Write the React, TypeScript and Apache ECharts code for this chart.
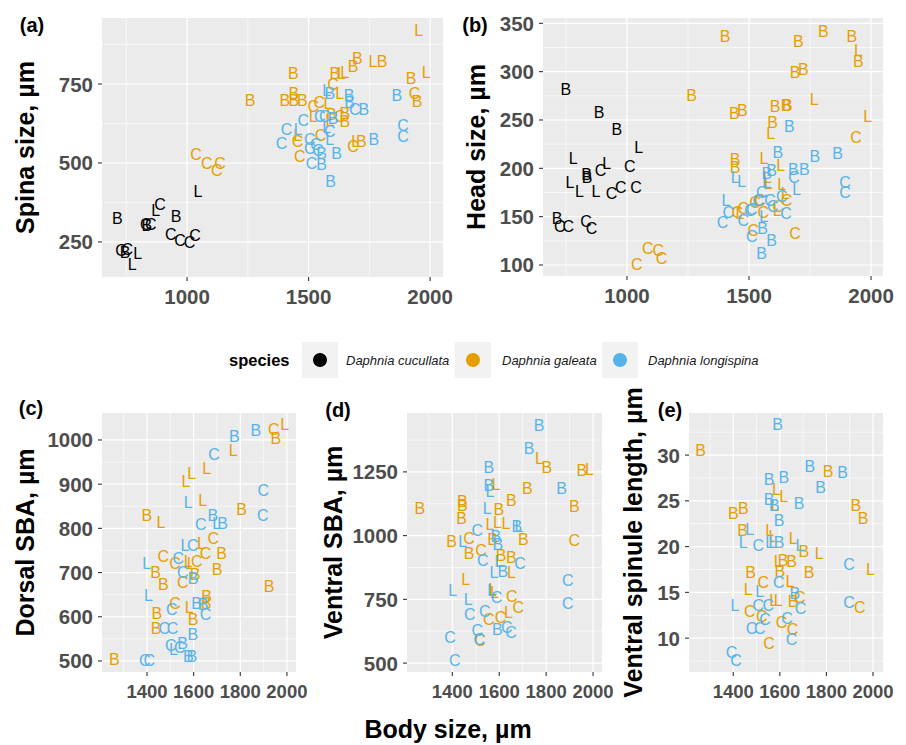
import React, { useEffect, useRef } from "react";
import * as echarts from "echarts";

// ---------- colours ----------
const SPECIES = ["Daphnia cucullata", "Daphnia galeata", "Daphnia longispina"];
const COLORS = ["#000000", "#E69F00", "#56B4E9"];

// ---------- panel (a): body size vs spina size ----------
const A_CUC: [number, number, string][] = [
  [713, 323, "B"], [728, 223, "C"], [745, 218, "B"], [754, 225, "C"], [797, 212, "L"], [774, 177, "L"],
  [830, 304, "C"], [834, 302, "B"], [851, 305, "C"], [871, 349, "L"], [889, 370, "C"], [955, 330, "B"],
  [933, 273, "C"], [971, 254, "C"], [1010, 248, "C"], [1033, 269, "C"], [1045, 409, "L"],
];
const A_GAL: [number, number, string][] = [
  [1037, 528, "C"], [1081, 499, "C"], [1122, 476, "C"], [1136, 499, "C"],
  [1259, 699, "B"], [1402, 699, "B"], [1439, 699, "B"], [1474, 699, "B"], [1439, 720, "B"], [1437, 784, "B"],
  [1608, 784, "B"], [1635, 784, "L"], [1649, 786, "L"], [1683, 805, "B"], [1701, 831, "B"], [1765, 821, "L"], [1802, 821, "B"],
  [1953, 919, "L"], [1984, 786, "L"], [1922, 768, "B"], [1936, 720, "C"], [1946, 694, "B"],
  [1601, 747, "C"], [1628, 720, "L"],
  [1519, 678, "C"], [1544, 691, "C"], [1580, 689, "L"], [1519, 647, "L"],
  [1649, 657, "B"], [1649, 631, "B"], [1628, 647, "C"], [1587, 636, "L"], [1594, 652, "B"],
  [1549, 586, "C"], [1455, 587, "L"], [1455, 568, "C"], [1464, 521, "C"],
  [1683, 552, "C"], [1694, 567, "L"], [1717, 567, "B"],
];
const A_LON: [number, number, string][] = [
  [1389, 562, "C"], [1409, 605, "C"], [1457, 605, "L"], [1478, 636, "C"], [1505, 573, "C"], [1505, 547, "C"],
  [1539, 541, "C"], [1553, 531, "B"], [1512, 499, "C"], [1553, 494, "B"], [1590, 441, "B"], [1615, 531, "B"],
  [1587, 573, "L"], [1587, 599, "C"], [1546, 647, "C"], [1567, 647, "C"], [1601, 641, "B"],
  [1574, 731, "L"], [1587, 720, "B"], [1667, 715, "B"], [1669, 691, "B"], [1690, 670, "C"], [1727, 668, "B"],
  [1768, 573, "B"], [1863, 715, "B"], [1889, 620, "C"], [1889, 585, "C"], [1530, 560, "C"], [1575, 612, "L"],
];

// ---------- panel (b): body size vs head size ----------
const B_CUC: [number, number, string][] = [
  [750, 282, "B"], [886, 258, "B"], [958, 240, "B"], [1048, 222, "L"], [780, 210, "L"], [835, 194, "B"],
  [837, 190, "B"], [892, 198, "C"], [917, 205, "L"], [1012, 202, "C"], [766, 185, "L"], [805, 176, "L"],
  [873, 176, "L"], [937, 174, "C"], [975, 180, "C"], [1037, 180, "C"], [714, 148, "B"], [725, 140, "C"],
  [760, 140, "C"], [832, 145, "C"], [855, 138, "C"],
];
const B_GAL: [number, number, string][] = [
  [1040, 100, "C"], [1085, 117, "C"], [1128, 115, "C"], [1142, 107, "C"], [1265, 275, "B"], [1402, 336, "B"],
  [1440, 257, "B"], [1473, 260, "B"], [1702, 331, "B"], [1805, 342, "B"], [1921, 336, "B"], [1948, 322, "L"],
  [1948, 310, "B"], [1689, 299, "B"], [1723, 302, "B"], [1767, 271, "L"], [1986, 254, "L"], [1939, 232, "C"],
  [1607, 264, "B"], [1652, 265, "B"], [1657, 265, "B"], [1597, 247, "B"], [1589, 236, "L"], [1443, 209, "B"],
  [1443, 201, "B"], [1561, 210, "L"], [1630, 203, "L"], [1575, 190, "L"], [1579, 184, "L"], [1634, 183, "L"],
  [1648, 174, "L"], [1654, 167, "C"], [1620, 161, "C"], [1616, 156, "L"], [1559, 154, "C"], [1545, 167, "C"],
  [1525, 165, "C"], [1477, 158, "C"], [1452, 154, "C"], [1463, 153, "L"], [1518, 136, "C"], [1689, 133, "C"],
];
const B_LON: [number, number, string][] = [
  [1665, 243, "B"], [1618, 216, "B"], [1770, 212, "B"], [1863, 215, "B"], [1593, 198, "B"], [1682, 199, "B"],
  [1727, 199, "B"], [1573, 195, "B"], [1684, 190, "C"], [1695, 178, "L"], [1443, 191, "L"], [1470, 186, "L"],
  [1893, 185, "C"], [1893, 175, "C"], [1406, 167, "L"], [1552, 175, "C"], [1538, 167, "C"], [1586, 167, "C"],
  [1597, 161, "C"], [1634, 171, "C"], [1511, 157, "C"], [1652, 153, "C"], [1415, 154, "C"], [1392, 144, "C"],
  [1477, 146, "C"], [1504, 156, "C"], [1556, 138, "B"], [1511, 129, "C"], [1593, 125, "B"], [1552, 112, "B"],
  [1573, 185, "L"], [1560, 150, "L"],
];

// ---------- panel (c): body size vs dorsal SBA ----------
const C_GAL: [number, number, string][] = [
  [1260, 504, "B"], [1399, 828, "B"], [1460, 813, "L"], [1567, 906, "L"], [1592, 923, "L"], [1656, 936, "L"],
  [1770, 976, "L"], [1944, 1024, "C"], [1991, 1034, "L"], [1953, 1004, "B"], [1639, 864, "L"], [1806, 842, "B"],
  [1924, 668, "B"], [1684, 778, "C"], [1634, 765, "L"], [1651, 742, "C"], [1720, 744, "B"], [1701, 707, "B"],
  [1470, 736, "C"], [1437, 700, "B"], [1470, 674, "B"], [1520, 721, "C"], [1577, 725, "L"], [1613, 725, "C"],
  [1606, 695, "B"], [1553, 677, "C"], [1520, 630, "C"], [1581, 621, "L"], [1656, 645, "B"], [1653, 630, "B"],
  [1442, 608, "B"], [1439, 574, "B"], [1598, 593, "B"], [1590, 720, "L"],
];
const C_LON: [number, number, string][] = [
  [1774, 1007, "B"], [1867, 1021, "B"], [1687, 968, "C"], [1899, 885, "C"], [1896, 830, "C"], [1577, 858, "L"],
  [1682, 828, "B"], [1631, 808, "C"], [1699, 810, "L"], [1724, 810, "B"], [1563, 762, "L"], [1596, 762, "C"],
  [1399, 721, "L"], [1534, 732, "C"], [1553, 700, "C"], [1598, 687, "B"], [1406, 647, "L"], [1506, 617, "C"],
  [1613, 631, "B"], [1641, 627, "B"], [1651, 606, "C"], [1474, 574, "C"], [1510, 574, "C"], [1596, 559, "B"],
  [1502, 534, "C"], [1513, 525, "L"], [1541, 531, "C"], [1553, 540, "B"], [1577, 510, "B"], [1592, 510, "B"],
  [1391, 502, "C"], [1410, 502, "C"],
];

// ---------- panel (d): body size vs ventral SBA ----------
const D_GAL: [number, number, string][] = [
  [1262, 1107, "B"], [1443, 1133, "B"], [1443, 1120, "B"], [1440, 1068, "B"], [1397, 976, "B"], [1471, 990, "C"],
  [1472, 928, "B"], [1522, 941, "C"], [1457, 829, "L"], [1598, 1101, "B"], [1586, 1199, "L"], [1561, 1042, "L"],
  [1592, 1051, "L"], [1629, 1048, "L"], [1572, 983, "B"], [1652, 1136, "B"], [1720, 1183, "B"], [1771, 1304, "L"],
  [1803, 1268, "B"], [1952, 1254, "B"], [1984, 1258, "L"], [1920, 1114, "B"], [1920, 980, "C"], [1703, 983, "B"],
  [1608, 921, "B"], [1652, 915, "B"], [1652, 855, "L"], [1600, 900, "L"], [1572, 787, "L"], [1653, 760, "C"],
  [1681, 718, "C"], [1639, 697, "L"], [1606, 679, "C"], [1556, 669, "C"], [1518, 588, "C"], [1580, 775, "L"],
];
const D_LON: [number, number, string][] = [
  [1770, 1432, "B"], [1727, 1343, "B"], [1556, 1268, "B"], [1556, 1195, "B"], [1561, 1173, "L"], [1866, 1186, "B"],
  [1549, 1105, "L"], [1507, 1022, "C"], [1444, 976, "L"], [1675, 1035, "B"], [1684, 1035, "L"], [1586, 996, "B"],
  [1594, 967, "B"], [1530, 904, "C"], [1600, 898, "L"], [1615, 859, "B"], [1689, 891, "C"], [1578, 855, "L"],
  [1892, 823, "C"], [1892, 732, "C"], [1402, 783, "L"], [1468, 750, "L"], [1475, 692, "C"], [1539, 701, "C"],
  [1589, 758, "C"], [1568, 783, "L"], [1390, 601, "C"], [1507, 627, "C"], [1515, 593, "C"], [1592, 632, "B"],
  [1632, 640, "C"], [1650, 620, "C"], [1411, 509, "C"],
];

// ---------- panel (e): body size vs ventral spinule length ----------
const E_GAL: [number, number, string][] = [
  [1260, 30.5, "B"], [1400, 23.6, "B"], [1443, 24.2, "B"], [1440, 21.8, "B"], [1557, 21.8, "L"], [1571, 21.1, "L"],
  [1586, 26.2, "L"], [1617, 25.5, "L"], [1579, 24.5, "L"], [1657, 20.9, "L"], [1703, 19.5, "B"], [1769, 19.3, "L"],
  [1807, 28.2, "B"], [1926, 24.5, "B"], [1957, 23.1, "B"], [1989, 17.5, "L"], [1943, 13.3, "C"], [1474, 17.2, "B"],
  [1464, 15.3, "L"], [1529, 16.1, "C"], [1471, 12.9, "C"], [1522, 12.4, "C"], [1593, 18.4, "L"], [1614, 18.5, "B"],
  [1650, 18.4, "B"], [1600, 17.3, "B"], [1643, 16.2, "L"], [1726, 17.2, "B"], [1574, 14.1, "L"], [1593, 14.1, "L"],
  [1657, 14.0, "B"], [1686, 14.4, "C"], [1607, 11.7, "C"], [1655, 10.9, "C"], [1554, 9.4, "C"],
];
const E_LON: [number, number, string][] = [
  [1590, 33.3, "B"], [1729, 28.7, "B"], [1869, 28.1, "B"], [1775, 26.5, "B"], [1554, 27.3, "B"], [1617, 27.6, "B"],
  [1554, 25.1, "B"], [1576, 24.5, "B"], [1683, 24.7, "B"], [1597, 22.8, "B"], [1471, 21.9, "L"], [1443, 20.4, "L"],
  [1507, 20.1, "C"], [1557, 20.5, "L"], [1571, 20.5, "L"], [1597, 20.4, "B"], [1686, 20.1, "L"], [1596, 16.1, "C"],
  [1897, 18.0, "C"], [1897, 13.9, "C"], [1407, 13.6, "L"], [1514, 15.1, "L"], [1507, 13.6, "C"], [1550, 13.6, "C"],
  [1664, 14.9, "B"], [1689, 13.2, "C"], [1479, 11.1, "C"], [1514, 11.1, "C"], [1536, 12.0, "C"], [1631, 12.2, "C"],
  [1650, 9.8, "C"], [1393, 8.4, "C"], [1412, 7.6, "C"],
];

// ---------- ticks ----------
const UP_X_MAJOR = [1000, 1500, 2000];
const UP_X_MINOR = [750, 1250, 1750];
const A_Y_MAJOR = [250, 500, 750];
const A_Y_MINOR = [375, 625, 875];
const B_Y_MAJOR = [100, 150, 200, 250, 300, 350];
const B_Y_MINOR = [125, 175, 225, 275, 325];
const LOW_X_MAJOR = [1400, 1600, 1800, 2000];
const LOW_X_MINOR = [1300, 1500, 1700, 1900];
const C_Y_MAJOR = [500, 600, 700, 800, 900, 1000];
const C_Y_MINOR = [550, 650, 750, 850, 950];
const D_Y_MAJOR = [500, 750, 1000, 1250];
const D_Y_MINOR = [625, 875, 1125, 1375];
const E_Y_MAJOR = [10, 15, 20, 25, 30];
const E_Y_MINOR = [7.5, 12.5, 17.5, 22.5, 27.5, 32.5];

const TAGS = ["(a)", "(b)", "(c)", "(d)", "(e)"];
const Y_TITLES = ["Spina size, µm", "Head size, µm", "Dorsal SBA, µm", "Ventral SBA, µm", "Ventral spinule length, µm"];
const X_TITLE = "Body size, µm";

type Pt = [number, number, string];
interface Panel {
  rect: [number, number, number, number];
  x: [number, number];
  y: [number, number];
  xMaj: number[]; xMin: number[]; yMaj: number[]; yMin: number[];
  groups: Pt[][];
  tag: [number, number];
  title: [number, number];
  xFont: number;
}

const PANELS: Panel[] = [
  { rect: [102, 18, 341, 259], x: [650, 2053], y: [139, 959], xMaj: UP_X_MAJOR, xMin: UP_X_MINOR, yMaj: A_Y_MAJOR, yMin: A_Y_MINOR, groups: [A_CUC, A_GAL, A_LON], tag: [32, 25], title: [25, 147.5], xFont: 20.5 },
  { rect: [543, 18, 340, 258], x: [656, 2049], y: [88.6, 355.5], xMaj: UP_X_MAJOR, xMin: UP_X_MINOR, yMaj: B_Y_MAJOR, yMin: B_Y_MINOR, groups: [B_CUC, B_GAL, B_LON], tag: [475, 25], title: [476, 147], xFont: 20.5 },
  { rect: [102, 413, 194, 259], x: [1207, 2039], y: [475, 1061], xMaj: LOW_X_MAJOR, xMin: LOW_X_MINOR, yMaj: C_Y_MAJOR, yMin: C_Y_MINOR, groups: [[], C_GAL, C_LON], tag: [31, 408], title: [25, 542.5], xFont: 18.5 },
  { rect: [407, 413, 195, 259], x: [1207, 2038], y: [465, 1481], xMaj: LOW_X_MAJOR, xMin: LOW_X_MINOR, yMaj: D_Y_MAJOR, yMin: D_Y_MINOR, groups: [[], D_GAL, D_LON], tag: [338, 410], title: [333, 542.5], xFont: 18.5 },
  { rect: [689, 413, 194, 259], x: [1210, 2043], y: [6.3, 34.6], xMaj: LOW_X_MAJOR, xMin: LOW_X_MINOR, yMaj: E_Y_MAJOR, yMin: E_Y_MINOR, groups: [[], E_GAL, E_LON], tag: [670, 410], title: [633, 542.5], xFont: 18.5 },
];

const FONT = '"Liberation Sans", Arial, Helvetica, sans-serif';
const LETTER_FONT = `16px ${FONT}`;
const Y_TICK_FONT = `bold 20.5px ${FONT}`;
const TITLE_FONT = `bold 25px ${FONT}`;

function txt(text: string, x: number, y: number, font: string, fill: string, align = "center", rotation = 0): any {
  return {
    type: "text", x, y, rotation, silent: true,
    style: { text, font, fill, textAlign: align, textVerticalAlign: "middle", align, verticalAlign: "middle" },
  };
}

function buildOption(): any {
  const grid: any[] = [];
  const xAxis: any[] = [];
  const yAxis: any[] = [];
  const series: any[] = [];
  const graphic: any[] = [];

  PANELS.forEach((p, i) => {
    grid.push({ left: p.rect[0], top: p.rect[1], width: p.rect[2], height: p.rect[3], show: true, backgroundColor: "#EBEBEB", borderWidth: 0 });
    xAxis.push({ type: "value", gridIndex: i, min: p.x[0], max: p.x[1], show: false });
    yAxis.push({ type: "value", gridIndex: i, min: p.y[0], max: p.y[1], show: false });

    // grid lines: [value, orientation(0=vertical,1=horizontal), major]
    const lines: number[][] = [
      ...p.xMin.map((v) => [v, 0, 0]), ...p.yMin.map((v) => [v, 1, 0]),
      ...p.xMaj.map((v) => [v, 0, 1]), ...p.yMaj.map((v) => [v, 1, 1]),
    ];
    series.push({
      type: "custom", xAxisIndex: i, yAxisIndex: i, silent: true, z: 1,
      data: lines.map(() => [p.x[0], p.y[0]]),
      renderItem: (params: any, api: any) => {
        const [v, o, m] = lines[params.dataIndex];
        const a = o === 0 ? api.coord([v, p.y[0]]) : api.coord([p.x[0], v]);
        const b = o === 0 ? api.coord([v, p.y[1]]) : api.coord([p.x[1], v]);
        return { type: "line", shape: { x1: a[0], y1: a[1], x2: b[0], y2: b[1] }, style: { stroke: "#FFFFFF", lineWidth: m ? 1.2 : 0.6 } };
      },
    });

    // ticks + tick labels
    const ticks: number[][] = [...p.xMaj.map((v) => [v, 0]), ...p.yMaj.map((v) => [v, 1])];
    const xTickFont = `bold ${p.xFont}px ${FONT}`;
    series.push({
      type: "custom", xAxisIndex: i, yAxisIndex: i, silent: true, z: 2,
      data: ticks.map(() => [p.x[0], p.y[0]]),
      renderItem: (params: any, api: any) => {
        const [v, o] = ticks[params.dataIndex];
        if (o === 0) {
          const c = api.coord([v, p.y[0]]);
          return {
            type: "group",
            children: [
              { type: "line", shape: { x1: c[0], y1: c[1], x2: c[0], y2: c[1] + 4 }, style: { stroke: "#333333", lineWidth: 1.1 } },
              txt(String(v), c[0], c[1] + 19, xTickFont, "#4D4D4D", "center"),
            ],
          };
        }
        const c = api.coord([p.x[0], v]);
        return {
          type: "group",
          children: [
            { type: "line", shape: { x1: c[0] - 4, y1: c[1], x2: c[0], y2: c[1] }, style: { stroke: "#333333", lineWidth: 1.1 } },
            txt(String(v), c[0] - 9, c[1], Y_TICK_FONT, "#4D4D4D", "right"),
          ],
        };
      },
    });

    // letters
    p.groups.forEach((arr, s) => {
      if (!arr.length) return;
      series.push({
        type: "custom", name: SPECIES[s], xAxisIndex: i, yAxisIndex: i, silent: true, z: 3 + s,
        data: arr.map((d) => [d[0], d[1]]),
        renderItem: (params: any, api: any) => {
          const d = arr[params.dataIndex];
          const c = api.coord([d[0], d[1]]);
          return txt(d[2], c[0], c[1], LETTER_FONT, COLORS[s], "center");
        },
      });
    });

    graphic.push(txt(TAGS[i], p.tag[0], p.tag[1], `bold 20px ${FONT}`, "#000000", "center"));
    graphic.push(txt(Y_TITLES[i], p.title[0], p.title[1], TITLE_FONT, "#000000", "center", Math.PI / 2));
  });

  graphic.push(txt(X_TITLE, 448, 729, TITLE_FONT, "#000000", "center"));

  // legend
  graphic.push(txt("species", 229, 360, `bold 16.5px ${FONT}`, "#000000", "left"));
  const keyX = [302, 455, 602];
  const labX = [346, 502, 648];
  SPECIES.forEach((name, s) => {
    graphic.push({ type: "rect", silent: true, shape: { x: keyX[s], y: 342, width: 36, height: 36 }, style: { fill: "#F2F2F2" } });
    graphic.push({ type: "circle", silent: true, shape: { cx: keyX[s] + 18, cy: 360, r: 7 }, style: { fill: COLORS[s] } });
    graphic.push(txt(name, labX[s], 360, `italic 13px ${FONT}`, "#1A1A1A", "left"));
  });

  return { animation: false, backgroundColor: "#FFFFFF", tooltip: { show: false }, grid, xAxis, yAxis, series, graphic };
}

export default function App() {
  const ref = useRef<HTMLDivElement>(null);
  useEffect(() => {
    document.body.style.margin = "0";
    document.body.style.overflow = "hidden";
    if (!ref.current) return;
    const chart = echarts.init(ref.current, undefined, { renderer: "svg" });
    chart.setOption(buildOption());
    return () => chart.dispose();
  }, []);
  return <div ref={ref} style={{ position: "relative", width: 906, height: 745, background: "#FFFFFF" }} />;
}
